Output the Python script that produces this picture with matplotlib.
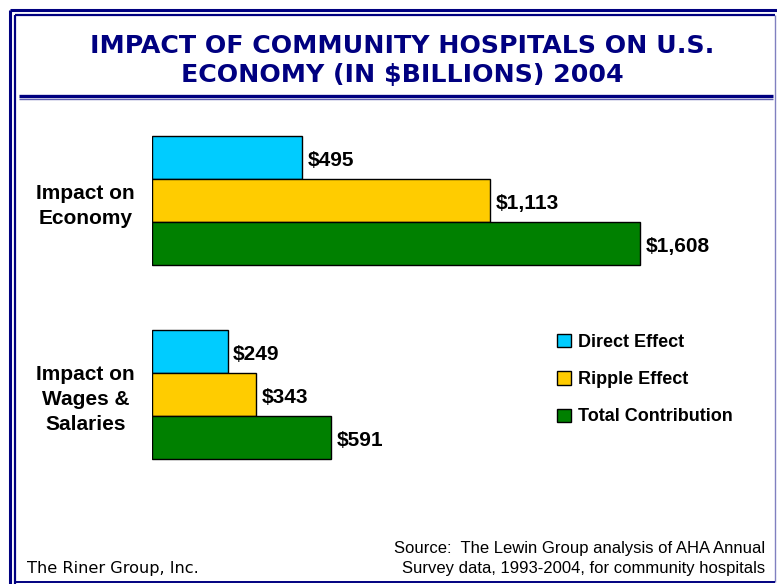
import numpy as np
import matplotlib.pyplot as plt
from matplotlib.lines import Line2D

# dados (em bilhões de US$, 2004)
grupos = ['Impact on\nEconomy', 'Impact on\nWages &\nSalaries']
direto = [495, 249]
ripple = [1113, 343]
total = [1608, 591]
series = ['Direct Effect', 'Ripple Effect', 'Total Contribution']
cores = ['#00CCFF', '#FFCC00', '#008000']

W, H = 777, 584
azul = '#000080'

fig = plt.figure(figsize=(W / 100, H / 100), dpi=100)


def px(x, y):
    # converte pixels (origem no topo) para fração da figura
    return x / W, 1 - y / H


def linha(x0, y0, x1, y1, lw, cor=azul):
    (a, b), (c, d) = px(x0, y0), px(x1, y1)
    fig.add_artist(Line2D([a, c], [b, d], lw=lw, color=cor,
                          transform=fig.transFigure, solid_capstyle='butt'))


# moldura dupla
linha(9.5, 9.5, 777, 9.5, 2.2)
linha(9.5, 9.5, 9.5, 584, 2.2)
linha(14.5, 14.5, 775, 14.5, 1.6)
linha(14.5, 14.5, 14.5, 584, 1.6)
linha(775, 14.5, 775, 582, 1.0, '#8080C0')
linha(14.5, 582, 775, 582, 1.4)

# titulo e linha abaixo dele
fig.text(*px(402, 46), 'IMPACT OF COMMUNITY HOSPITALS ON U.S.', ha='center',
         va='center', fontsize=18.2, fontweight='bold', color=azul,
         family='DejaVu Sans')
fig.text(*px(402, 75), 'ECONOMY (IN $BILLIONS) 2004', ha='center',
         va='center', fontsize=18.2, fontweight='bold', color=azul,
         family='DejaVu Sans')
linha(19, 96, 773, 96, 2.4)
linha(19, 98.8, 773, 98.8, 1.0, '#6060B0')

# grafico de barras horizontais
ax = fig.add_axes([152 / W, (H - 490) / H, 607 / W, 380 / H])
y = np.arange(len(grupos))
h = 0.2216
for i, (vals, nome, cor) in enumerate(zip([direto, ripple, total], series, cores)):
    barras = ax.barh(y + (i - 1) * h, vals, height=h, color=cor,
                     edgecolor='black', linewidth=1.0, label=nome)
    for b, v in zip(barras, vals):
        ax.annotate(f'${v:,}', (v, b.get_y() + b.get_height() / 2),
                    xytext=(4, -1.5), textcoords='offset points', va='center',
                    ha='left', fontsize=15, fontweight='bold',
                    family='Liberation Sans')

ax.set_xlim(0, 2000)
ax.set_ylim(1.49, -0.469)
ax.set_xticks([])
ax.set_yticks(y)
ax.set_yticklabels(grupos, fontsize=15, fontweight='bold',
                   family='Liberation Sans', ha='center', multialignment='center',
                   linespacing=1.4)
ax.tick_params(axis='y', length=0, pad=48)
for s in ax.spines.values():
    s.set_visible(False)
ax.patch.set_alpha(0)

# legenda
fig.legend(loc='upper left', bbox_to_anchor=px(557, 334), frameon=False,
           borderaxespad=0, borderpad=0, handlelength=0.75, handleheight=0.75,
           handletextpad=0.4, labelspacing=1.12,
           prop={'family': 'Liberation Sans', 'weight': 'bold', 'size': 13})

# rodape
fig.text(*px(27, 569), 'The Riner Group, Inc.', ha='left', va='center',
         fontsize=11.6, family='DejaVu Sans')
fig.text(*px(765, 548), 'Source:  The Lewin Group analysis of AHA Annual',
         ha='right', va='center', fontsize=12, family='Liberation Sans')
fig.text(*px(765, 568), 'Survey data, 1993-2004, for community hospitals',
         ha='right', va='center', fontsize=12, family='Liberation Sans')

fig.savefig('out.png', dpi=100)
